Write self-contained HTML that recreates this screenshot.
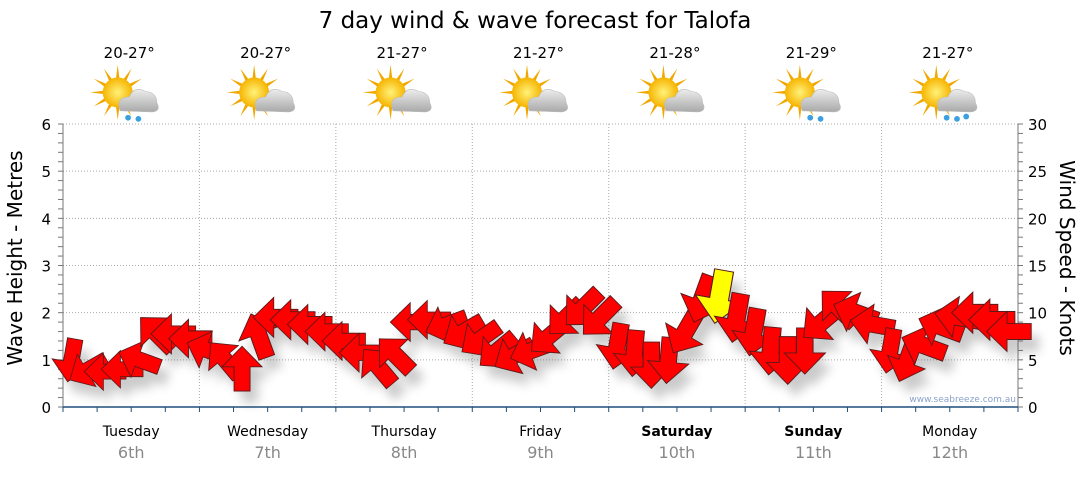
<!DOCTYPE html>
<html><head><meta charset="utf-8"><style>
body{margin:0;background:#fff;font-family:"DejaVu Sans","Liberation Sans",sans-serif}
svg text{font-family:"DejaVu Sans","Liberation Sans",sans-serif}
</style></head><body>
<svg id="c" width="1080" height="475" viewBox="0 0 1080 475">
<defs>
<filter id="sh" x="-50%" y="-50%" width="200%" height="200%"><feGaussianBlur stdDeviation="5"/></filter>
<radialGradient id="sun" cx="50%" cy="50%" r="50%"><stop offset="0" stop-color="#fff27a"/><stop offset="1" stop-color="#f6b400"/></radialGradient>
<linearGradient id="cloud" x1="0" y1="0" x2="0" y2="1"><stop offset="0" stop-color="#ececec"/><stop offset="1" stop-color="#a9a9a9"/></linearGradient>
</defs>
<text x="535" y="28" font-size="23" text-anchor="middle" fill="#000">7 day wind &amp; wave forecast for Talofa</text>
<g id="grid"></g>
<g id="axes"></g>
<g id="shadows" filter="url(#sh)" opacity="0.3"></g>
<g id="arrows"></g>
<g id="icons"></g>
<text x="1016" y="402" font-size="9" text-anchor="end" fill="#8aa3c8">www.seabreeze.com.au</text>
<text transform="translate(22,258) rotate(-90)" font-size="20" text-anchor="middle">Wave Height - Metres</text>
<text transform="translate(1060,258) rotate(90)" font-size="20" text-anchor="middle">Wind Speed - Knots</text>
</svg>
<script>
const days=["Tuesday","Wednesday","Thursday","Friday","Saturday","Sunday","Monday"];
const dates=["6th","7th","8th","9th","10th","11th","12th"];
const boldDays=[false,false,false,false,true,true,false];
const temps=["20-27°","20-27°","21-27°","21-27°","21-28°","21-29°","21-27°"];
const rainIcons=[1,0,0,0,0,1,2];
const leftTicks=[0,1,2,3,4,5,6];
const rightTicks=[0,5,10,15,20,25,30];
const waveHeights=[
1.0,0.8,0.75,0.8,1.0,1.55,1.55,1.45,
1.2,1.0,0.8,1.5,1.9,1.85,1.75,1.6,
1.4,1.15,0.85,1.1,1.8,1.85,1.75,1.6,
1.45,1.2,1.1,1.2,1.5,1.9,2.1,1.9,
1.3,1.15,0.9,1.0,1.6,2.3,2.35,1.9,
1.6,1.2,1.0,1.2,1.8,2.1,2.0,1.75,
1.2,1.0,1.3,1.7,1.9,2.0,1.85,1.6];
const windDir=[
100,150,180,180,200,225,180,180,
200,230,270,250,180,180,180,180,
180,180,230,225,180,180,160,150,
145,140,150,160,140,135,135,135,
100,95,90,95,120,110,100,100,
100,95,90,90,140,225,200,190,
100,110,200,200,190,180,180,180];
const windSpeed=[
8,7,7,7,8,9,9,8,
8,8,9,10,9,9,9,8,
8,8,9,9,8,8,8,9,
9,9,9,9,9,9,10,10,
10,10,10,10,11,12,15,12,
11,11,11,10,10,10,10,9,
9,9,10,10,10,10,10,9];
const X0=63,X1=1018,Y0=407,Y6=124;
const ns="http://www.w3.org/2000/svg";
const dayW=(X1-X0)/7;
const xs=i=>X0+(i+0.5)*dayW/8;
const ym=v=>Y0-(Y0-Y6)*v/6;
const yk=k=>ym(k/5);
function mk(t,a,p){const e=document.createElementNS(ns,t);for(const k in a)e.setAttribute(k,a[k]);(p||document.getElementById('c')).appendChild(e);return e;}
const grid=document.getElementById('grid'),axes=document.getElementById('axes');
leftTicks.forEach(v=>{if(v>0){const l=mk('line',{x1:X0,x2:X1,y1:ym(v),y2:ym(v),stroke:'#aaa','stroke-dasharray':'1,2'},grid);

}
const t=mk('text',{x:X0-12,y:ym(v)+6,'font-size':15,'text-anchor':'end'},axes);t.textContent=v;

});
rightTicks.forEach(v=>{const t=mk('text',{x:X1+10,y:yk(v)+6,'font-size':15},axes);t.textContent=v;

});
for(let v=0;v<=6.001;v+=0.2){mk('line',{x1:X0-5,x2:X0,y1:ym(v),y2:ym(v),stroke:'#777'},axes);mk('line',{x1:X1,x2:X1+5,y1:ym(v),y2:ym(v),stroke:'#777'},axes);}
mk('line',{x1:X0,x2:X0,y1:Y6,y2:Y0,stroke:'#777'},axes);
mk('line',{x1:X1,x2:X1,y1:Y6,y2:Y0,stroke:'#777'},axes);
mk('line',{x1:X0,x2:X1,y1:Y0,y2:Y0,stroke:'#1f4f7a','stroke-width':1.5},axes);
for(let i=0;i<=28;i++){const x=X0+i*dayW/4;mk('line',{x1:x,x2:x,y1:Y0,y2:Y0+5,stroke:'#1f4f7a'},axes);}
for(let d=0;d<7;d++){
 if(d>0){const g=mk('line',{x1:X0+d*dayW,x2:X0+d*dayW,y1:Y6,y2:Y0,stroke:'#aaa','stroke-dasharray':'1,2'},grid);
 
 }
 const cx=X0+(d+0.5)*dayW;
 const t=mk('text',{x:cx,y:436,'font-size':14,'text-anchor':'middle','font-weight':boldDays[d]?'bold':'normal'},axes);t.textContent=days[d];
 
 
 const t2=mk('text',{x:cx,y:458,'font-size':16,'text-anchor':'middle',fill:'#888'},axes);t2.textContent=dates[d];
 
 
 const t3=mk('text',{x:cx-2,y:58,'font-size':15,'text-anchor':'middle'},axes);t3.textContent=temps[d];
 
 
 const ic=mk('g',{transform:`translate(${cx-2},97) scale(1.15)`},document.getElementById('icons'));
 
 
 for(let r=0;r<12;r++){const a=r*30*Math.PI/180;mk('polygon',{points:`${-10+Math.cos(a)*24},${-4+Math.sin(a)*24} ${-10+Math.cos(a+0.15)*11},${-4+Math.sin(a+0.15)*11} ${-10+Math.cos(a-0.15)*11},${-4+Math.sin(a-0.15)*11}`,fill:'#f0a800'},ic);}
 mk('circle',{cx:-10,cy:-4,r:13,fill:'url(#sun)'},ic);
 mk('path',{d:'M-8 12 Q-12 0 0 0 Q4 -10 14 -5 Q24 -4 24 5 Q28 12 20 13 Z',fill:'url(#cloud)',stroke:'#bbb','stroke-width':0.5},ic);
 if(rainIcons[d]>0){mk('circle',{cx:-1,cy:18,r:2.5,fill:'#3aa0e0'},ic);mk('circle',{cx:8,cy:19,r:2.5,fill:'#3aa0e0'},ic);}
 if(rainIcons[d]>1){mk('circle',{cx:16,cy:17,r:2.5,fill:'#3aa0e0'},ic);}
}
const arrowPts="-18,-6 2,-6 2,-15 19,0 2,15 2,6 -18,6";
waveHeights.forEach((h,i)=>{
 const s=0.85+windSpeed[i]*0.04;
 const tr=`translate(${xs(i)},${ym(h)}) rotate(${windDir[i]}) scale(${s},${s*1.1})`;
 mk('polygon',{points:arrowPts,transform:`translate(8,12) `+tr,fill:'#555'},document.getElementById('shadows'));
 const a=mk('polygon',{points:arrowPts,transform:tr,fill:windSpeed[i]>=15?'#ffff00':'#ff0000',stroke:'#5a1a1a','stroke-width':0.7},document.getElementById('arrows'));
 
 
});
</script>
</body></html>
